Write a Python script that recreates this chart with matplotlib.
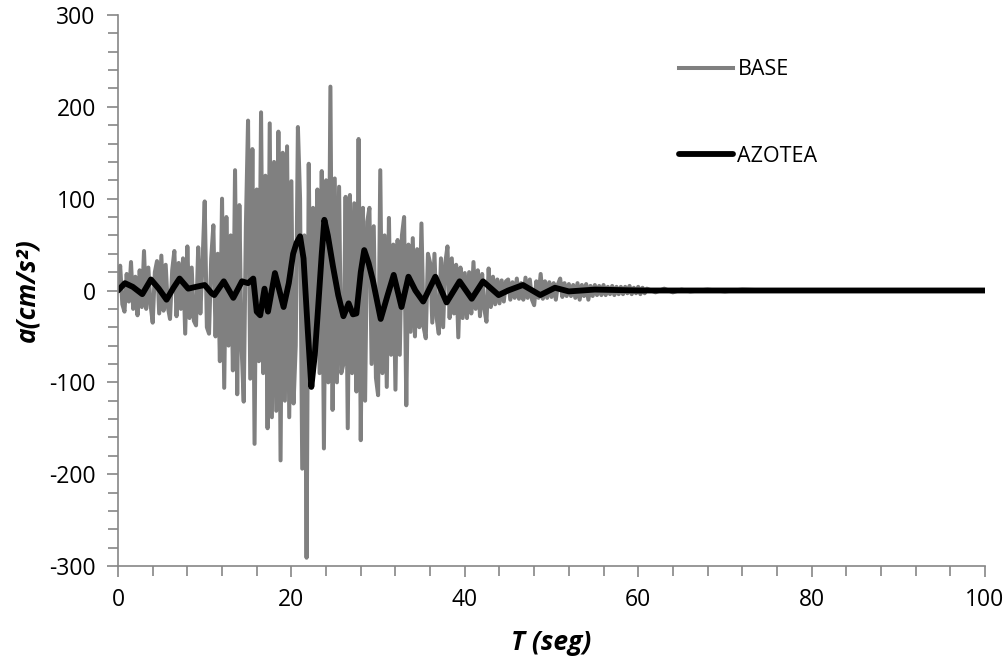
import matplotlib
matplotlib.use("Agg")
import matplotlib.pyplot as plt
import numpy as np
from matplotlib.ticker import MultipleLocator

plt.rcParams['font.family'] = ['Open Sans', 'DejaVu Sans']
plt.rcParams['axes.unicode_minus'] = False

# BASE record, one reading every 0.25 s from 0 to 60 s
base_dt = 0.25
base_vals = [
    0, 27, -15, -23,   18, -12, 31, -20,   15, -27, 22, -18,   43, -20, 25, -15,
    -35, 20, 32, -25,  38, -22, 28, -18,   -31, 22, 43, -28,   30, -20, 35, -47,
    48, -30, 25, -33,  -38, 47, -25, 30,   97, -40, -47, 35,   71, -50, 40, -77,
    100, -106, 80, -60,  60, -87, 131, -113,  93, -60, -121, 70,  185, -96, 154, -167,
    110, -77, 194, -90,  125, -150, 182, -138,  140, -131, 173, -185,  150, -120, 157, -138,
    119, -123, -60, 178,  100, -194, 60, -291,  138, -100, 90, -60,  110, -90, 130, -172,
    120, -100, 222, -130,  122, -100, 113, -90,  -80, 102, -150, 104,  -90, 95, -110, 165,
    -163, 90, -120, 75,  90, -80, 70, -95,  -114, 131, -90, 60,  -105, 79, -70, 50,
    -108, 55, -70, 60,  80, -125, 50, -45,  57, -50, 45, -40,  73, -40, -52, 40,
    30, -35, 40, -30,  -47, 35, -40, 30,  48, -30, 35, -25,  28, -51, 25, -30,
    19, -30, 20, -25,  31, -20, 22, -28,  18, -20, -34, 24,  -18, 15, -15, 12,
    -14, 11, -12, 10,  12, -10, 9, -8,  13, -9, 8, -10,  14, -8, 12, -10,
    -16, 10, -8, 18,  -9, 10, -8, 9,  -7, 8, -10, 7,  13, -7, 8, -6,
    7, -6, 6, -8,  8, -10, 6, -6,  7, -10, 5, -6,  6, -5, 5, -5,
    6, -5, 4, -4,  5, -5, 4, -4,  4, -4, 4, -3,  5, -4, 3, -3,
    4, -4, 3, -3,
]
base_tail_t = [61, 62, 63, 64, 65, 66, 68, 70, 72, 75, 100]
base_tail_v = [2, -2, 2, -2, 1, -1, 1, -1, 1, 0, 0]

# AZOTEA (roof) response
azotea_t = [0, 0.8, 1.7, 2.8, 3.8, 4.7, 5.6, 6.4, 7.1, 8.1, 9.0, 10.0, 10.8, 11.1,
            12.2, 13.3, 14.3, 15.0, 15.6, 16.0, 16.4, 16.9, 17.3, 18.1, 19.1, 19.7,
            20.2, 20.6, 21.0, 21.4, 21.9, 22.3, 22.7, 23.0, 23.5, 23.8, 24.2, 24.8,
            25.4, 26.0, 26.6, 27.1, 27.5, 28.0, 28.4, 28.9, 29.4, 30.3, 31.1, 31.8,
            32.7, 33.5, 34.3, 35.2, 36.6, 37.9, 39.4, 40.8, 42.1, 43.9, 45.0, 46.7,
            48.7, 50.4, 52, 55, 60, 70, 100]
azotea_v = [0, 8, 4, -4, 12, 2, -10, 3, 13, 2, 4, 6, -3, -5,
            10, -8, 10, 8, 13, -23, -27, 2, -23, 19, -18, 8,
            40, 52, 59, 35, -45, -105, -70, -30, 40, 77, 60, 26,
            -5, -28, -14, -26, -25, 20, 44, 30, 11, -31, -5, 17,
            -18, 15, 0, -12, 15, -13, 10, -9, 10, -5, 0, 6,
            -5, 3, -1, 1, 0, 0, 0]

base_t = np.arange(len(base_vals)) * base_dt
base_t = np.concatenate([base_t, base_tail_t])
base_v = np.concatenate([base_vals, base_tail_v])

fig = plt.figure(figsize=(10.05, 6.62), dpi=100)
ax = fig.add_axes([118 / 1005, 1 - 566 / 662, (985 - 118) / 1005, (566 - 15) / 662])

ax.plot(base_t, base_v, color="#808080", lw=2.9, label="BASE")
ax.plot(azotea_t, azotea_v, color="black", lw=4.2, label="AZOTEA",
        solid_joinstyle="round", solid_capstyle="round")

ax.set_xlim(0, 100)
ax.set_ylim(-300, 300)
ax.xaxis.set_major_locator(MultipleLocator(20))
ax.xaxis.set_minor_locator(MultipleLocator(4))
ax.yaxis.set_major_locator(MultipleLocator(100))
ax.yaxis.set_minor_locator(MultipleLocator(20))

for s in ["top", "right"]:
    ax.spines[s].set_visible(False)
for s in ["left", "bottom"]:
    ax.spines[s].set_color("#868686")
    ax.spines[s].set_linewidth(1.2)

ax.tick_params(which="both", direction="out", color="#868686", width=1.2)
ax.tick_params(which="major", length=8, labelsize=16.5, pad=8)
ax.tick_params(which="minor", length=7)

ax.set_xlabel("T (seg)", fontsize=19, fontweight="bold", style="italic", labelpad=12)
ax.set_ylabel("a(cm/s²)", fontsize=19, fontweight="bold", style="italic", labelpad=6)

ax.legend(loc="upper left", bbox_to_anchor=(0.625, 0.955), frameon=False,
          fontsize=15.5, handlelength=2.5, handletextpad=0.2, labelspacing=3.05)

fig.savefig("out.png", dpi=100)
